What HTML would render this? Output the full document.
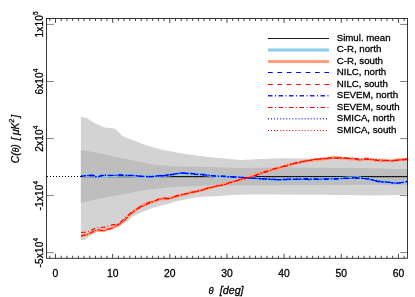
<!DOCTYPE html>
<html><head><meta charset="utf-8"><title>C(θ) plot</title>
<style>html,body{margin:0;padding:0;background:#fff}body{width:415px;height:297px;overflow:hidden}</style></head>
<body>
<svg width="415" height="297" viewBox="0 0 415 297" style="display:block">
<rect width="415" height="297" fill="#fff"/>
<style>text{stroke:#000;stroke-width:0.28px;paint-order:stroke}</style>
<polygon points="80.9,116.9 86.4,117.7 94.0,122.7 104.1,127.5 111.7,128.0 115.5,128.9 121.8,135.4 126.8,137.9 133.1,139.9 143.2,144.2 153.3,147.5 163.4,150.0 174.0,152.0 185.0,154.0 208.0,157.1 240.7,159.9 274.0,158.6 285.0,158.2 320.0,158.8 374.0,159.5 407.4,160.2 407.4,194.8 374.0,195.4 320.0,194.8 274.0,194.6 258.0,194.6 246.0,194.6 233.0,194.9 220.0,195.9 208.0,196.6 195.0,197.6 185.0,199.4 175.6,201.6 168.4,203.7 161.1,205.5 153.9,207.6 146.7,210.2 139.5,213.1 132.2,216.7 127.9,221.0 120.5,225.0 108.0,230.0 97.0,231.5 88.5,236.5 84.5,240.0 80.9,240.3" fill="#d3d3d3"/>
<polygon points="80.9,149.7 95.3,152.5 112.9,156.1 133.1,160.6 153.3,164.4 174.0,166.2 208.0,166.9 240.0,168.0 274.0,167.5 320.0,167.8 374.0,168.3 407.4,169.3 407.4,184.9 374.0,184.8 320.0,184.9 274.0,185.2 246.0,185.2 208.0,185.4 172.0,186.9 157.5,188.4 145.0,190.0 133.0,192.6 113.0,196.0 95.3,199.8 80.9,202.8" fill="#bebebe"/>
<line x1="47" y1="176.5" x2="407.4" y2="176.5" stroke="#000" stroke-width="1" stroke-dasharray="1 2"/>
<line x1="81" y1="176.7" x2="407.4" y2="176.7" stroke="#000" stroke-width="1"/>
<polyline points="81.0,176.0 83.9,175.6 86.8,175.4 89.7,175.5 92.6,175.5 95.5,176.3 98.4,176.8 101.3,175.9 104.2,175.8 107.1,176.0 110.0,175.8 112.9,175.5 115.8,175.5 118.7,175.3 121.6,175.1 124.5,175.2 127.4,175.1 130.3,175.2 133.2,175.4 136.1,175.7 139.0,176.2 141.9,176.5 144.8,176.6 147.7,176.4 150.6,176.3 153.5,176.2 156.4,176.3 159.3,176.0 162.2,175.5 165.1,175.2 168.0,175.1 170.9,174.7 173.8,174.1 176.7,173.5 179.6,173.5 182.5,173.6 185.4,173.5 188.3,173.4 191.2,173.5 194.1,173.8 197.0,173.9 199.9,174.1 202.8,174.4 205.7,174.7 208.6,175.0 211.5,175.4 214.4,176.0 217.3,176.4 220.2,176.6 223.1,176.7 226.0,176.8 228.9,176.8 231.8,176.9 234.7,177.2 237.6,177.4 240.5,177.2 243.4,177.3 246.3,177.7 249.2,177.9 252.1,178.2 255.0,178.5 257.9,178.6 260.8,178.6 263.7,178.8 266.6,179.3 269.5,179.6 272.4,179.8 275.3,179.9 278.2,179.8 281.1,179.7 284.0,179.5 286.9,179.6 289.8,179.5 292.7,179.3 295.6,179.3 298.5,179.2 301.4,179.1 304.3,178.9 307.2,179.0 310.1,179.2 313.0,179.3 315.9,179.3 318.8,179.3 321.7,179.1 324.6,178.9 327.5,178.8 330.4,178.9 333.3,179.0 336.2,178.8 339.1,178.7 342.0,178.5 344.9,178.3 347.8,178.1 350.7,178.1 353.6,177.9 356.5,177.7 359.4,177.9 362.3,178.4 365.2,178.9 368.1,179.2 371.0,179.5 373.9,180.1 376.8,180.8 379.7,181.3 382.6,181.5 385.5,181.8 388.4,182.1 391.3,182.4 394.2,182.6 397.1,183.0 400.0,183.1 402.9,182.6 405.8,182.0 407.4,181.8" fill="none" stroke="#87ceeb" stroke-width="3" stroke-linejoin="round"/>
<polyline points="81.0,235.9 83.9,235.4 86.8,234.7 89.7,233.6 92.6,232.0 95.5,230.8 98.4,230.1 101.3,230.6 104.2,230.6 107.1,229.4 110.0,228.6 112.9,227.6 115.8,226.2 118.7,225.0 121.6,222.4 124.5,219.8 127.4,217.0 130.3,214.2 133.2,211.8 136.1,209.5 139.0,207.6 141.9,205.9 144.8,204.3 147.7,203.1 150.6,202.2 153.5,201.7 156.4,200.6 159.3,199.4 162.2,198.6 165.1,198.7 168.0,198.7 170.9,197.8 173.8,197.0 176.7,196.4 179.6,195.6 182.5,194.7 185.4,194.1 188.3,193.3 191.2,192.5 194.1,191.8 197.0,191.2 199.9,190.5 202.8,189.7 205.7,189.0 208.6,188.2 211.5,187.4 214.4,186.6 217.3,185.9 220.2,185.1 223.1,184.2 226.0,183.5 228.9,183.1 231.8,182.3 234.7,181.2 237.6,180.3 240.5,179.4 243.4,178.6 246.3,177.9 249.2,176.9 252.1,175.8 255.0,175.1 257.9,174.2 260.8,173.0 263.7,172.1 266.6,171.4 269.5,170.6 272.4,169.7 275.3,168.9 278.2,168.2 281.1,167.3 284.0,166.3 286.9,165.5 289.8,164.8 292.7,164.1 295.6,163.3 298.5,162.7 301.4,162.0 304.3,161.3 307.2,160.7 310.1,160.4 313.0,160.3 315.9,160.0 318.8,159.6 321.7,159.0 324.6,158.8 327.5,158.6 330.4,158.1 333.3,157.6 336.2,157.6 339.1,157.9 342.0,158.3 344.9,158.5 347.8,158.7 350.7,158.9 353.6,158.9 356.5,159.2 359.4,159.9 362.3,159.6 365.2,158.9 368.1,159.0 371.0,159.5 373.9,160.0 376.8,160.2 379.7,160.2 382.6,160.1 385.5,160.3 388.4,160.8 391.3,160.9 394.2,160.3 397.1,159.9 400.0,159.7 402.9,159.6 405.8,159.4 407.4,159.1" fill="none" stroke="#ffa07a" stroke-width="3" stroke-linejoin="round"/>
<polyline points="81.0,176.3 83.9,175.9 86.8,175.2 89.7,175.0 92.6,175.1 95.5,175.9 98.4,176.7 101.3,175.7 104.2,175.4 107.1,175.6 110.0,175.8 112.9,175.5 115.8,175.3 118.7,175.1 121.6,175.1 124.5,175.2 127.4,175.5 130.3,175.5 133.2,175.4 136.1,175.6 139.0,176.3 141.9,176.7 144.8,176.7 147.7,176.8 150.6,177.0 153.5,176.7 156.4,176.0 159.3,175.5 162.2,175.5 165.1,175.4 168.0,174.9 170.9,174.4 173.8,174.2 176.7,173.6 179.6,173.4 182.5,173.3 185.4,173.4 188.3,173.6 191.2,173.5 194.1,174.0 197.0,174.6 199.9,174.6 202.8,174.7 205.7,175.0 208.6,175.1 211.5,175.5 214.4,176.0 217.3,176.0 220.2,176.1 223.1,176.1 226.0,176.4 228.9,176.8 231.8,176.9 234.7,177.0 237.6,177.2 240.5,177.2 243.4,177.4 246.3,177.6 249.2,177.9 252.1,178.1 255.0,178.0 257.9,178.3 260.8,178.7 263.7,178.7 266.6,178.8 269.5,179.3 272.4,179.7 275.3,179.9 278.2,179.9 281.1,179.8 284.0,179.6 286.9,179.2 289.8,179.1 292.7,179.3 295.6,179.2 298.5,179.2 301.4,179.4 304.3,179.4 307.2,179.4 310.1,179.6 313.0,179.6 315.9,179.5 318.8,179.4 321.7,179.0 324.6,179.0 327.5,179.1 330.4,179.0 333.3,179.0 336.2,178.9 339.1,178.5 342.0,178.3 344.9,178.4 347.8,178.3 350.7,178.0 353.6,177.8 356.5,177.8 359.4,178.2 362.3,178.4 365.2,178.5 368.1,179.0 371.0,179.5 373.9,180.3 376.8,181.0 379.7,181.5 382.6,182.0 385.5,182.1 388.4,182.3 391.3,182.8 394.2,183.1 397.1,183.1 400.0,182.7 402.9,182.3 405.8,182.3 407.4,182.1" fill="none" stroke="#0000ff" stroke-width="1.1" stroke-dasharray="4.7 4.7"/>
<polyline points="81.0,235.7 83.9,234.9 86.8,234.5 89.7,233.7 92.6,231.9 95.5,230.2 98.4,229.6 101.3,230.5 104.2,230.3 107.1,229.3 110.0,228.8 112.9,227.4 115.8,225.5 118.7,224.5 121.6,222.4 124.5,220.2 127.4,217.5 130.3,214.5 133.2,211.9 136.1,209.3 139.0,207.3 141.9,205.7 144.8,204.2 147.7,202.8 150.6,201.8 153.5,201.5 156.4,200.1 159.3,198.6 162.2,197.9 165.1,198.2 168.0,198.3 170.9,197.6 173.8,197.0 176.7,196.2 179.6,195.2 182.5,194.4 185.4,194.0 188.3,193.1 191.2,192.3 194.1,192.1 197.0,191.7 199.9,190.8 202.8,190.0 205.7,188.9 208.6,188.1 211.5,187.4 214.4,186.8 217.3,186.3 220.2,185.7 223.1,185.1 226.0,183.9 228.9,182.6 231.8,182.2 234.7,181.8 237.6,180.5 240.5,179.1 243.4,178.2 246.3,177.7 249.2,177.6 252.1,176.9 255.0,175.7 257.9,174.5 260.8,173.3 263.7,172.0 266.6,171.1 269.5,170.4 272.4,169.3 275.3,168.5 278.2,168.2 281.1,167.2 284.0,166.1 286.9,165.2 289.8,164.3 292.7,163.9 295.6,163.6 298.5,163.0 301.4,161.8 304.3,161.1 307.2,160.8 310.1,160.4 313.0,159.8 315.9,159.3 318.8,159.1 321.7,158.8 324.6,158.5 327.5,158.1 330.4,157.8 333.3,157.9 336.2,158.2 339.1,157.7 342.0,157.5 344.9,157.8 347.8,158.5 350.7,158.7 353.6,158.6 356.5,159.1 359.4,159.9 362.3,159.5 365.2,158.9 368.1,159.5 371.0,159.8 373.9,159.9 376.8,160.4 379.7,160.8 382.6,160.8 385.5,160.6 388.4,160.6 391.3,161.1 394.2,160.7 397.1,159.9 400.0,159.7 402.9,159.9 405.8,159.5 407.4,159.2" fill="none" stroke="#ff0000" stroke-width="1.0" stroke-dasharray="4.7 4.7"/>
<polyline points="81.0,176.4 83.9,176.0 86.8,175.4 89.7,175.5 92.6,175.9 95.5,176.7 98.4,176.8 101.3,175.5 104.2,175.1 107.1,175.3 110.0,175.4 112.9,175.4 115.8,175.4 118.7,175.1 121.6,175.3 124.5,175.3 127.4,175.2 130.3,175.4 133.2,175.5 136.1,175.6 139.0,176.0 141.9,176.4 144.8,176.5 147.7,176.4 150.6,176.6 153.5,176.6 156.4,176.2 159.3,175.8 162.2,175.7 165.1,175.8 168.0,175.5 170.9,174.8 173.8,174.3 176.7,173.7 179.6,173.2 182.5,173.0 185.4,173.2 188.3,173.5 191.2,173.5 194.1,173.6 197.0,173.9 199.9,174.3 202.8,174.5 205.7,174.7 208.6,175.3 211.5,175.8 214.4,175.9 217.3,175.9 220.2,176.1 223.1,176.4 226.0,176.5 228.9,176.7 231.8,176.9 234.7,177.0 237.6,177.2 240.5,177.5 243.4,177.8 246.3,178.0 249.2,178.2 252.1,178.2 255.0,178.2 257.9,178.4 260.8,178.6 263.7,178.8 266.6,179.0 269.5,179.1 272.4,179.2 275.3,179.5 278.2,179.7 281.1,179.6 284.0,179.5 286.9,179.6 289.8,179.5 292.7,179.4 295.6,179.2 298.5,178.9 301.4,178.8 304.3,178.8 307.2,178.8 310.1,178.7 313.0,178.9 315.9,179.0 318.8,179.2 321.7,179.4 324.6,179.3 327.5,179.1 330.4,178.9 333.3,178.7 336.2,178.9 339.1,178.9 342.0,178.6 344.9,178.4 347.8,178.4 350.7,178.4 353.6,178.3 356.5,178.2 359.4,178.2 362.3,178.3 365.2,178.7 368.1,178.9 371.0,179.4 373.9,180.3 376.8,181.2 379.7,181.8 382.6,182.1 385.5,182.1 388.4,182.1 391.3,182.7 394.2,183.1 397.1,183.1 400.0,182.9 402.9,182.4 405.8,181.7 407.4,181.5" fill="none" stroke="#0000ff" stroke-width="1.4" stroke-dasharray="4.7 2.3 1 2.3" stroke-dashoffset="3"/>
<polyline points="81.0,232.5 83.9,232.2 86.8,232.0 89.7,231.3 92.6,229.5 95.5,228.1 98.4,227.5 101.3,227.5 104.2,227.1 107.1,226.4 110.0,225.5 112.9,224.6 115.8,224.5 118.7,223.9 121.6,221.2 124.5,218.8 127.4,216.0 130.3,213.3 133.2,211.2 136.1,209.6 139.0,208.0 141.9,206.7 144.8,205.5 147.7,203.9 150.6,202.0 153.5,201.1 156.4,200.2 159.3,199.1 162.2,198.5 165.1,198.6 168.0,198.8 170.9,198.4 173.8,197.1 176.7,195.6 179.6,194.7 182.5,194.2 185.4,193.8 188.3,193.2 191.2,192.5 194.1,191.9 197.0,191.2 199.9,190.6 202.8,189.8 205.7,188.6 208.6,187.8 211.5,187.5 214.4,186.8 217.3,185.9 220.2,185.3 223.1,184.9 226.0,184.2 228.9,183.2 231.8,182.2 234.7,181.3 237.6,180.3 240.5,179.7 243.4,179.1 246.3,178.3 249.2,177.3 252.1,176.3 255.0,175.4 257.9,174.1 260.8,173.0 263.7,172.5 266.6,172.0 269.5,171.2 272.4,169.7 275.3,168.5 278.2,167.7 281.1,167.0 284.0,166.5 286.9,166.0 289.8,165.0 292.7,163.9 295.6,162.9 298.5,162.3 301.4,161.8 304.3,161.3 307.2,160.9 310.1,160.4 313.0,159.5 315.9,159.1 318.8,159.2 321.7,159.0 324.6,158.8 327.5,158.7 330.4,158.3 333.3,158.0 336.2,158.2 339.1,158.5 342.0,158.3 344.9,157.9 347.8,158.3 350.7,158.8 353.6,158.7 356.5,158.9 359.4,159.5 362.3,159.4 365.2,159.0 368.1,159.0 371.0,159.2 373.9,159.7 376.8,160.2 379.7,160.8 382.6,161.1 385.5,160.7 388.4,160.4 391.3,160.8 394.2,160.9 397.1,160.5 400.0,159.6 402.9,159.1 405.8,159.0 407.4,158.9" fill="none" stroke="#ff0000" stroke-width="1.1" stroke-dasharray="4.7 2.3 1 2.3"/>
<polyline points="81.0,176.2 83.9,176.0 86.8,175.6 89.7,175.6 92.6,175.7 95.5,176.6 98.4,177.2 101.3,176.0 104.2,175.3 107.1,175.3 110.0,175.5 112.9,175.5 115.8,175.3 118.7,175.0 121.6,175.3 124.5,175.3 127.4,175.2 130.3,175.4 133.2,175.7 136.1,175.9 139.0,176.1 141.9,176.2 144.8,176.3 147.7,176.3 150.6,176.3 153.5,176.1 156.4,176.1 159.3,176.4 162.2,176.1 165.1,175.2 168.0,174.5 170.9,174.2 173.8,174.0 176.7,173.5 179.6,173.1 182.5,173.0 185.4,172.9 188.3,173.3 191.2,173.9 194.1,174.1 197.0,174.2 199.9,174.6 202.8,175.1 205.7,175.2 208.6,175.1 211.5,175.5 214.4,176.1 217.3,176.3 220.2,176.6 223.1,176.8 226.0,176.9 228.9,176.9 231.8,176.7 234.7,176.7 237.6,176.9 240.5,177.4 243.4,177.9 246.3,178.1 249.2,178.2 252.1,178.2 255.0,178.4 257.9,178.8 260.8,179.1 263.7,179.3 266.6,179.3 269.5,179.1 272.4,179.2 275.3,179.3 278.2,179.6 281.1,179.6 284.0,179.2 286.9,179.0 289.8,179.0 292.7,179.2 295.6,179.3 298.5,179.3 301.4,179.3 304.3,179.3 307.2,179.4 310.1,179.7 313.0,179.5 315.9,179.2 318.8,179.3 321.7,179.0 324.6,178.7 327.5,178.7 330.4,178.9 333.3,178.9 336.2,178.5 339.1,178.2 342.0,178.3 344.9,178.1 347.8,178.1 350.7,178.3 353.6,178.1 356.5,177.9 359.4,178.0 362.3,178.2 365.2,178.6 368.1,179.3 371.0,180.0 373.9,180.4 376.8,180.5 379.7,181.0 382.6,181.6 385.5,182.1 388.4,182.3 391.3,182.7 394.2,183.1 397.1,183.2 400.0,183.1 402.9,182.7 405.8,181.9 407.4,181.5" fill="none" stroke="#0000ff" stroke-width="1.0" stroke-dasharray="1.2 1.8"/>
<polyline points="81.0,236.3 83.9,235.6 86.8,234.8 89.7,233.2 92.6,231.6 95.5,230.5 98.4,229.9 101.3,230.4 104.2,230.4 107.1,229.5 110.0,228.9 112.9,227.7 115.8,226.0 118.7,225.0 121.6,223.0 124.5,220.6 127.4,217.5 130.3,214.4 133.2,212.2 136.1,209.9 139.0,207.5 141.9,206.3 144.8,205.3 147.7,204.0 150.6,202.7 153.5,201.6 156.4,200.4 159.3,199.5 162.2,198.5 165.1,198.3 168.0,198.9 170.9,198.4 173.8,197.1 176.7,196.3 179.6,195.5 182.5,194.8 185.4,194.2 188.3,193.0 191.2,192.1 194.1,191.7 197.0,191.5 199.9,190.7 202.8,189.9 205.7,189.3 208.6,188.3 211.5,187.4 214.4,186.7 217.3,185.6 220.2,185.1 223.1,184.9 226.0,184.1 228.9,182.8 231.8,181.9 234.7,181.2 237.6,180.6 240.5,179.8 243.4,178.6 246.3,177.9 249.2,177.4 252.1,176.5 255.0,175.8 257.9,174.9 260.8,173.6 263.7,172.2 266.6,171.4 269.5,170.5 272.4,169.7 275.3,169.2 278.2,168.5 281.1,167.2 284.0,166.1 286.9,165.3 289.8,164.2 292.7,163.6 295.6,163.5 298.5,162.6 301.4,161.7 304.3,161.3 307.2,160.7 310.1,160.3 313.0,159.6 315.9,159.3 318.8,159.2 321.7,158.7 324.6,158.3 327.5,158.2 330.4,158.2 333.3,158.2 336.2,158.2 339.1,157.9 342.0,157.9 344.9,158.1 347.8,158.2 350.7,158.1 353.6,158.3 356.5,159.0 359.4,160.0 362.3,159.7 365.2,159.0 368.1,159.1 371.0,159.7 373.9,159.7 376.8,159.6 379.7,159.9 382.6,160.3 385.5,160.5 388.4,160.6 391.3,160.9 394.2,160.5 397.1,159.8 400.0,159.8 402.9,160.0 405.8,160.0 407.4,159.7" fill="none" stroke="#ff0000" stroke-width="1.0" stroke-dasharray="1.2 1.8"/>
<rect x="46.55" y="18.5" width="360.84999999999997" height="239.75" fill="none" stroke="#000" stroke-width="0.78"/>
<path d="M49.78,18.5v2.5M49.78,258.25v-2.5M55.50,18.5v4.4M55.50,258.25v-4.4M61.22,18.5v2.5M61.22,258.25v-2.5M66.93,18.5v2.5M66.93,258.25v-2.5M72.64,18.5v2.5M72.64,258.25v-2.5M78.36,18.5v2.5M78.36,258.25v-2.5M84.08,18.5v2.5M84.08,258.25v-2.5M89.79,18.5v2.5M89.79,258.25v-2.5M95.50,18.5v2.5M95.50,258.25v-2.5M101.22,18.5v2.5M101.22,258.25v-2.5M106.94,18.5v2.5M106.94,258.25v-2.5M112.65,18.5v4.4M112.65,258.25v-4.4M118.36,18.5v2.5M118.36,258.25v-2.5M124.08,18.5v2.5M124.08,258.25v-2.5M129.80,18.5v2.5M129.80,258.25v-2.5M135.51,18.5v2.5M135.51,258.25v-2.5M141.22,18.5v2.5M141.22,258.25v-2.5M146.94,18.5v2.5M146.94,258.25v-2.5M152.66,18.5v2.5M152.66,258.25v-2.5M158.37,18.5v2.5M158.37,258.25v-2.5M164.08,18.5v2.5M164.08,258.25v-2.5M169.80,18.5v4.4M169.80,258.25v-4.4M175.51,18.5v2.5M175.51,258.25v-2.5M181.23,18.5v2.5M181.23,258.25v-2.5M186.94,18.5v2.5M186.94,258.25v-2.5M192.66,18.5v2.5M192.66,258.25v-2.5M198.38,18.5v2.5M198.38,258.25v-2.5M204.09,18.5v2.5M204.09,258.25v-2.5M209.81,18.5v2.5M209.81,258.25v-2.5M215.52,18.5v2.5M215.52,258.25v-2.5M221.23,18.5v2.5M221.23,258.25v-2.5M226.95,18.5v4.4M226.95,258.25v-4.4M232.66,18.5v2.5M232.66,258.25v-2.5M238.38,18.5v2.5M238.38,258.25v-2.5M244.09,18.5v2.5M244.09,258.25v-2.5M249.81,18.5v2.5M249.81,258.25v-2.5M255.53,18.5v2.5M255.53,258.25v-2.5M261.24,18.5v2.5M261.24,258.25v-2.5M266.95,18.5v2.5M266.95,258.25v-2.5M272.67,18.5v2.5M272.67,258.25v-2.5M278.38,18.5v2.5M278.38,258.25v-2.5M284.10,18.5v4.4M284.10,258.25v-4.4M289.81,18.5v2.5M289.81,258.25v-2.5M295.53,18.5v2.5M295.53,258.25v-2.5M301.25,18.5v2.5M301.25,258.25v-2.5M306.96,18.5v2.5M306.96,258.25v-2.5M312.68,18.5v2.5M312.68,258.25v-2.5M318.39,18.5v2.5M318.39,258.25v-2.5M324.11,18.5v2.5M324.11,258.25v-2.5M329.82,18.5v2.5M329.82,258.25v-2.5M335.53,18.5v2.5M335.53,258.25v-2.5M341.25,18.5v4.4M341.25,258.25v-4.4M346.96,18.5v2.5M346.96,258.25v-2.5M352.68,18.5v2.5M352.68,258.25v-2.5M358.39,18.5v2.5M358.39,258.25v-2.5M364.11,18.5v2.5M364.11,258.25v-2.5M369.82,18.5v2.5M369.82,258.25v-2.5M375.54,18.5v2.5M375.54,258.25v-2.5M381.25,18.5v2.5M381.25,258.25v-2.5M386.97,18.5v2.5M386.97,258.25v-2.5M392.69,18.5v2.5M392.69,258.25v-2.5M398.40,18.5v4.4M398.40,258.25v-4.4M404.12,18.5v2.5M404.12,258.25v-2.5" stroke="#000" stroke-width="0.72" fill="none"/>
<path d="M46.55,24.4h7.3M407.4,24.4h-7.3M46.55,81.5h7.3M407.4,81.5h-7.3M46.55,138.6h7.3M407.4,138.6h-7.3M46.55,195.6h7.3M407.4,195.6h-7.3M46.55,252.6h7.3M407.4,252.6h-7.3" stroke="#000" stroke-width="0.5" fill="none"/>
<g font-family="'Liberation Sans', sans-serif" font-size="10.35" fill="#000" text-anchor="middle">
<text x="55.5" y="277.3">0</text>
<text x="112.7" y="277.3">10</text>
<text x="169.8" y="277.3">20</text>
<text x="226.9" y="277.3">30</text>
<text x="284.1" y="277.3">40</text>
<text x="341.2" y="277.3">50</text>
<text x="398.4" y="277.3">60</text>
</g>
<text x="208.6" y="293.5" font-family="'Liberation Sans', sans-serif" font-style="italic" font-size="10.75" fill="#000"><tspan font-size="9.3">θ</tspan><tspan x="219.7">[deg]</tspan></text>
<text transform="translate(43.4,24.4) rotate(-90)" font-family="'Liberation Sans', sans-serif" font-size="10.1" letter-spacing="0.12" fill="#000" text-anchor="middle"><tspan>1x10</tspan><tspan font-size="6.6" dy="-5.6">5</tspan></text>
<text transform="translate(43.4,81.5) rotate(-90)" font-family="'Liberation Sans', sans-serif" font-size="10.1" letter-spacing="0.12" fill="#000" text-anchor="middle"><tspan>6x10</tspan><tspan font-size="6.6" dy="-5.6">4</tspan></text>
<text transform="translate(43.4,138.6) rotate(-90)" font-family="'Liberation Sans', sans-serif" font-size="10.1" letter-spacing="0.12" fill="#000" text-anchor="middle"><tspan>2x10</tspan><tspan font-size="6.6" dy="-5.6">4</tspan></text>
<text transform="translate(43.4,195.6) rotate(-90)" font-family="'Liberation Sans', sans-serif" font-size="10.1" letter-spacing="0.12" fill="#000" text-anchor="middle"><tspan>-1x10</tspan><tspan font-size="6.6" dy="-5.6">4</tspan></text>
<text transform="translate(43.4,252.6) rotate(-90)" font-family="'Liberation Sans', sans-serif" font-size="10.1" letter-spacing="0.12" fill="#000" text-anchor="middle"><tspan>-5x10</tspan><tspan font-size="6.6" dy="-5.6">4</tspan></text>
<text transform="translate(19.2,163.2) rotate(-90)" font-family="'Liberation Sans', sans-serif" font-style="italic" font-size="10.3" fill="#000">C(<tspan font-size="8.6">θ</tspan>)<tspan dx="1"> [</tspan><tspan dx="-0.5"> μK</tspan><tspan font-size="6.4" dy="-4.8">2</tspan><tspan dy="4.8" dx="-1.5"> ]</tspan></text>
<line x1="268" y1="38.50" x2="329" y2="38.50" stroke="#000" stroke-width="0.9"/>
<text x="336.7" y="41.00" font-family="'Liberation Sans', sans-serif" font-size="9.7" fill="#000">Simul. mean</text>
<line x1="268" y1="49.90" x2="329" y2="49.90" stroke="#87ceeb" stroke-width="3"/>
<text x="336.7" y="52.47" font-family="'Liberation Sans', sans-serif" font-size="9.7" fill="#000">C-R, north</text>
<line x1="268" y1="61.40" x2="329" y2="61.40" stroke="#ffa07a" stroke-width="3"/>
<text x="336.7" y="63.94" font-family="'Liberation Sans', sans-serif" font-size="9.7" fill="#000">C-R, south</text>
<line x1="268" y1="72.50" x2="329" y2="72.50" stroke="#0000ff" stroke-width="1" stroke-dasharray="4.7 4.7"/>
<text x="336.7" y="75.41" font-family="'Liberation Sans', sans-serif" font-size="9.7" fill="#000">NILC, north</text>
<line x1="268" y1="84.50" x2="329" y2="84.50" stroke="#ff0000" stroke-width="1" stroke-dasharray="4.7 4.7"/>
<text x="336.7" y="86.88" font-family="'Liberation Sans', sans-serif" font-size="9.7" fill="#000">NILC, south</text>
<line x1="268" y1="95.80" x2="329" y2="95.80" stroke="#2222ff" stroke-width="1.6" stroke-dasharray="4.5 2.5 1 2.5"/>
<text x="336.7" y="98.35" font-family="'Liberation Sans', sans-serif" font-size="9.7" fill="#000">SEVEM, north</text>
<line x1="268" y1="107.50" x2="329" y2="107.50" stroke="#ff0000" stroke-width="1.0" stroke-dasharray="4.5 2.5 1 2.5"/>
<text x="336.7" y="109.82" font-family="'Liberation Sans', sans-serif" font-size="9.7" fill="#000">SEVEM, south</text>
<line x1="268" y1="118.80" x2="329" y2="118.80" stroke="#3c3cff" stroke-width="1.5" stroke-dasharray="1 2.05"/>
<text x="336.7" y="121.29" font-family="'Liberation Sans', sans-serif" font-size="9.7" fill="#000">SMICA, north</text>
<line x1="268" y1="130.50" x2="329" y2="130.50" stroke="#ff0000" stroke-width="1.0" stroke-dasharray="1 2.05"/>
<text x="336.7" y="132.76" font-family="'Liberation Sans', sans-serif" font-size="9.7" fill="#000">SMICA, south</text>
</svg>
</body></html>
